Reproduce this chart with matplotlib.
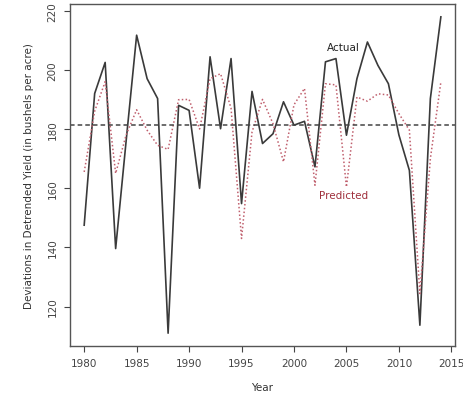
import matplotlib
matplotlib.use('Agg')
import matplotlib.pyplot as plt

years = list(range(1980, 2015))
actual = [147.5, 192, 202.5, 139.6, 176, 211.7, 197, 190.3, 111, 188, 186.3,
          160, 204.4, 180.1, 203.8, 154.8, 192.7, 175.1, 178.4, 189.2, 181.3,
          182.6, 167.2, 202.7, 203.8, 177.9, 197, 209.4, 201.5, 195.3, 178,
          166, 113.7, 190.3, 217.9]
predicted = [165.5, 186, 196, 165, 178, 186.5, 179.6, 174.5, 173.1, 189.9, 190,
             180, 197, 198.7, 187, 143, 179, 190, 181.8, 168.9, 188.2,
             193.7, 161, 195.3, 194.9, 160.4, 190.8, 189.4, 191.9, 191.5, 185.2,
             179.6, 124.4, 170, 195.9]
mean_line = 181.5

fig = plt.figure(figsize=(4.63, 4.02), dpi=100)
ax = fig.add_axes([0.151, 0.137, 0.832, 0.851])

ax.plot(years, actual, color='#3a3a3a', lw=1.2)
ax.plot(years, predicted, color='#c0606e', lw=1.1, linestyle=(0, (1, 1.5)))
ax.axhline(mean_line, color='#444444', lw=1.1, linestyle=(0, (3, 2)))

ax.text(2004.7, 207.8, 'Actual', fontsize=7.5, color='#222222', ha='center', va='center')
ax.text(2004.7, 157.8, 'Predicted', fontsize=7.5, color='#a0303c', ha='center', va='center')

ax.set_xlim(1978.64, 2015.36)
ax.set_ylim(106.7, 222.3)
ax.set_xticks([1980, 1985, 1990, 1995, 2000, 2005, 2010, 2015])
ax.set_yticks([120, 140, 160, 180, 200, 220])
ax.tick_params(colors='#444444', labelsize=7.5, length=4, pad=5)
for lab in ax.get_yticklabels():
    lab.set_rotation(90)
    lab.set_va('center')
for s in ax.spines.values():
    s.set_color('#555555')
    s.set_linewidth(1)

ax.set_xlabel('Year', fontsize=7.5, color='#333333', labelpad=10)
ax.set_ylabel('Deviations in Detrended Yield (in bushels per acre)', fontsize=7.5,
              color='#333333', labelpad=10)

fig.savefig('out.png', dpi=100)
